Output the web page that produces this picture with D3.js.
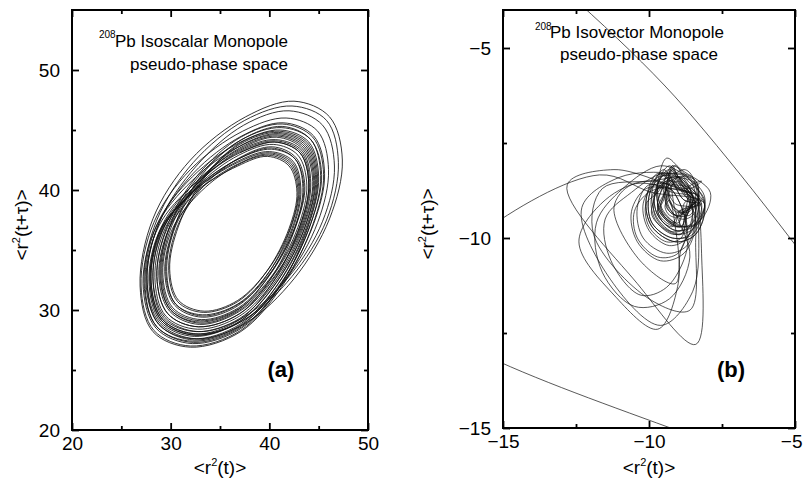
<!DOCTYPE html>
<html><head><meta charset="utf-8">
<script src="https://cdn.jsdelivr.net/npm/d3@7"></script>
<style>
body{margin:0;background:#fff}
svg{display:block}
text{font-family:"Liberation Sans",Arial,Helvetica,sans-serif;fill:#000}
</style>
</head><body>
<svg id="chart" width="804" height="482"></svg>
<script>
// ---------------- DATA ----------------
// Panel (a): time series of <r^2(t)> (isoscalar); pseudo-phase space plots (<r^2(t)>, <r^2(t+tau)>)
const isoscalarSeries = [
 37.0,40.5,43.1,44.0,43.1,40.5,37.0,32.5,29.2,28.0,29.2,32.5,
 36.8,40.0,42.4,43.2,42.4,40.0,36.8,32.9,30.0,29.0,30.0,32.9,
 37.2,41.2,44.2,45.2,44.2,41.2,37.2,32.2,28.5,27.2,28.5,32.2,
 36.9,40.8,43.6,44.6,43.6,40.8,36.9,32.4,29.0,27.8,29.0,32.4,
 36.8,39.8,42.0,42.8,42.0,39.8,36.8,33.3,30.7,29.8,30.7,33.3,
 37.0,40.3,42.7,43.6,42.7,40.3,37.0,32.8,29.7,28.6,29.7,32.8,
 37.1,41.3,44.4,45.5,44.4,41.3,37.1,32.0,28.2,26.9,28.2,32.0,
 37.6,42.5,46.1,47.4,46.1,42.5,37.6,32.6,28.9,27.6,28.9,32.6,
 37.4,42.0,45.4,46.6,45.4,42.0,37.4,32.8,29.4,28.2,29.4,32.8,
 37.0,40.6,43.3,44.2,43.3,40.6,37.0,32.9,29.9,28.8,29.9,32.9,
 36.9,40.0,42.2,43.0,42.2,40.0,36.9,33.2,30.4,29.4,30.4,33.2,
 37.0,40.9,43.8,44.8,43.8,40.9,37.0,32.2,28.6,27.4,28.6,32.2,
 37.1,41.1,44.0,45.0,44.0,41.1,37.1,32.0,28.3,27.0,28.3,32.0,
 37.3,41.7,44.9,46.0,44.9,41.7,37.3,32.6,29.1,27.9,29.1,32.6,
 37.0,40.7,43.4,44.4,43.4,40.7,37.0,32.7,29.5,28.4,29.5,32.7,
 36.9,40.2,42.6,43.4,42.6,40.2,36.9,33.1,30.2,29.2,30.2,33.1,
 36.8,39.9,42.1,42.9,42.1,39.9,36.8,33.4,30.8,29.9,30.8,33.4,
 37.0,41.0,43.9,44.9,43.9,41.0,37.0,32.3,28.8,27.6,28.8,32.3,
 37.2,41.4,44.5,45.6,44.5,41.4,37.2,32.3,28.6,27.3,28.6,32.3,
 37.5,42.3,45.8,47.0,45.8,42.3,37.5,32.8,29.2,28.0,29.2,32.8,
 37.0,40.6,43.2,44.1,43.2,40.6,37.0,32.8,29.7,28.6,29.7,32.8,
 36.9,40.4,42.9,43.8,42.9,40.4,36.9,33.0,30.1,29.1,30.1,33.0,
 37.0,40.8,43.5,44.5,43.5,40.8,37.0,32.6,29.3,28.2,29.3,32.6,
 36.9,40.2,42.6,43.5,42.6,40.2,36.9,33.2,30.5,29.5,30.5,33.2,
 37.2,41.3,44.2,45.3,44.2,41.3,37.2,32.4,28.8,27.5,28.8,32.4,
 37.0,40.5,43.1,44.0,43.1,40.5,37.0,33.0,30.0,28.9,30.0,33.0,
 37.1,40.9,43.7,44.7,43.7,40.9,37.1,32.5,29.1,27.9,29.1,32.5,
 36.8,40.0,42.3,43.1,42.3,40.0,36.8,33.2,30.5,29.6,30.5,33.2,
 37.0,40.5
];
const isoscalarLag = 2;

// Panel (b): time series of <r^2(t)> (isovector)
const isovectorSeries = [
 -20,-8.8,1,-6.55,-18,-15.8,-11.7,-9.9,-8.34,
 -8.8,-9.0,-9.3,-9.6,-9.5,-9.2,-8.9,
 -8.2,-8.5,-9.1,-9.7,-9.8,-9.4,-8.8,-8.3,
 -9.0,-9.1,-9.4,-9.6,-9.5,-9.2,-9.0,
 -8.1,-8.4,-9.1,-9.9,-10.1,-9.7,-9.0,-8.4,
 -8.4,-8.6,-10.0,-11.9,-11.6,-9.9,-8.7,-8.5,
 -8.4,-8.6,-9.0,-9.4,-9.3,-8.9,-8.5,
 -8.7,-8.9,-9.4,-10.0,-10.1,-9.7,-9.1,-8.8,
 -8.1,-8.4,-9.0,-9.7,-9.9,-9.5,-8.8,-8.2,
 -9.0,-9.1,-9.3,-9.4,-9.3,-9.1,
 -9.0,-9.7,-11.2,-12.4,-11.5,-10.1,-9.0,-8.5,
 -8.7,-8.9,-9.4,-9.9,-9.8,-9.4,-8.9,
 -7.9,-8.2,-8.8,-9.5,-9.7,-9.3,-8.6,-8.1,
 -8.9,-9.1,-10.3,-11.2,-10.6,-9.2,-8.6,
 -8.7,-8.9,-9.3,-9.7,-9.6,-9.2,-8.8,
 -8.4,-8.8,-9.6,-10.4,-10.6,-10.1,-9.3,-8.7,
 -8.7,-8.8,-9.1,-9.3,-9.3,-9.0,-8.8,
 -8.4,-8.6,-9.1,-9.7,-9.8,-9.4,-8.8,-8.5,
 -8.2,-8.4,-10.4,-12.8,-11.2,-8.6,-8.2,-8.7,
 -8.5,-8.7,-9.3,-10.0,-10.2,-9.8,-9.1,-8.6,
 -8.6,-8.7,-9.1,-9.4,-9.4,-9.0,-8.7,
 -8.4,-8.6,-9.2,-9.9,-10.0,-9.6,-8.9,-8.4,
 -8.3,-8.5,-9.6,-11.4,-12.3,-11.0,-9.2,-8.4,
 -8.3,-8.5,-8.9,-9.4,-9.5,-9.1,-8.6,
 -9.1,-9.2,-9.5,-9.7,-9.6,-9.3,-9.1,
 -8.6,-9.3,-10.5,-11.6,-11.8,-10.9,-9.6,-8.7,
 -8.1,-8.4,-9.1,-9.9,-10.1,-9.7,-9.0,-8.3,
 -8.7,-8.9,-9.3,-9.7,-9.6,-9.2,-8.8,
 -8.1,-8.3,-8.9,-9.6,-9.7,-9.3,-8.6,-8.2,
 -8.9,-9.0,-9.4,-9.7,-9.6,-9.3,-9.0,
 -8.7,-9.0,-9.7,-10.4,-10.5,-10.0,-9.3,-8.8,
 -8.7,-9.4,-10.3,-11.3,-11.5,-10.6,-9.5,-8.8,
 -8.3,-8.5,-9.0,-9.6,-9.7,-9.3,-8.7,-8.4,
 -8.95,-9.05,-9.3,-9.45,-9.4,-9.2,-9.0,
 -8.2,-8.5,-9.2,-9.9,-10.0,-9.6,-8.9,-8.3,
 -8.75,-8.9,-9.35,-9.8,-9.8,-9.4,-8.9,
 -8.5,-8.6,-8.95,-9.3,-9.3,-9.0,-8.7,
 -8.5,-8.7,-9.2,-9.8,-9.9,-9.5,-8.9,-8.6,
 -8.4,-8.7,-9.4,-10.2,-10.4,-10.0,-9.2,-8.6,
 -8.8,-8.9,-9.1,-9.4,-9.4,-9.2,-8.9,
 -8.9
];
const isovectorLag = 2;

// axes
const xDomainA = [20, 50], yDomainA = [20, 55];
const xMajorA = [20, 30, 40, 50], xMinorA = [25, 35, 45];
const yMajorA = [20, 30, 40, 50], yMinorA = [25, 35, 45];
const xDomainB = [-15, -5], yDomainB = [-15, -4];
const xMajorB = [-15, -10, -5], xMinorB = [-12.5, -7.5];
const yMajorB = [-15, -10, -5], yMinorB = [-12.5, -7.5];

const titleLines = [["208", "Pb Isoscalar Monopole", "pseudo-phase space"],
                    ["208", "Pb Isovector Monopole", "pseudo-phase space"]];
const panelLabels = ["(a)", "(b)"];

// ---------------- DRAWING ----------------
const svg = d3.select("#chart");
svg.append("rect").attr("width",804).attr("height",482).attr("fill","#fff");

const panels = [
  {series: isoscalarSeries, lag: isoscalarLag, xd: xDomainA, yd: yDomainA,
   xM: xMajorA, xm: xMinorA, yM: yMajorA, ym: yMinorA,
   box: {l: 72, r: 368, t: 10, b: 430},
   title: titleLines[0], tpos: {sx: 99, sy: 38, x1: 115, y1: 47, x2: 130, y2: 70},
   label: panelLabels[0], lpos: [281, 377], ytitleX: 28, sw: 0.85},
  {series: isovectorSeries, lag: isovectorLag, xd: xDomainB, yd: yDomainB,
   xM: xMajorB, xm: xMinorB, yM: yMajorB, ym: yMinorB,
   box: {l: 503, r: 795, t: 10, b: 428},
   title: titleLines[1], tpos: {sx: 535, sy: 29.5, x1: 550, y1: 37.5, x2: 560, y2: 60},
   label: panelLabels[1], lpos: [731, 377], ytitleX: 434, sw: 0.7}
];

panels.forEach((p, i) => {
  const x = d3.scaleLinear().domain(p.xd).range([p.box.l, p.box.r]);
  const y = d3.scaleLinear().domain(p.yd).range([p.box.b, p.box.t]);
  const g = svg.append("g");

  const clipId = "clip" + i;
  svg.append("clipPath").attr("id", clipId).append("rect")
    .attr("x", p.box.l).attr("y", p.box.t)
    .attr("width", p.box.r - p.box.l).attr("height", p.box.b - p.box.t);

  // pseudo-phase-space trajectory: (<r²(t)>, <r²(t+τ)>)
  const pts = d3.range(p.series.length - p.lag).map(k => [p.series[k], p.series[k + p.lag]]);
  const line = d3.line().x(d => x(d[0])).y(d => y(d[1])).curve(d3.curveCatmullRom.alpha(0.5));
  g.append("path").attr("clip-path", `url(#${clipId})`)
    .attr("d", line(pts)).attr("fill", "none")
    .attr("stroke", "#111").attr("stroke-width", p.sw).attr("stroke-linejoin","round");

  // axes with inward ticks
  const fmt = d3.format("d");
  const styleAxis = sel => {
    sel.select(".domain").remove();
    sel.selectAll("line").attr("stroke", "#000").attr("stroke-width", 1.8);
    sel.selectAll("text").attr("font-size", 19).attr("fill","#000")
      .attr("font-family", '"Liberation Sans",Arial,Helvetica,sans-serif');
  };
  const xAxisG = g.append("g").attr("transform", `translate(0,${p.box.b})`)
    .call(d3.axisBottom(x).tickValues(p.xM).tickFormat(fmt).tickSizeInner(-7).tickSizeOuter(0).tickPadding(7))
    .call(styleAxis);
  // keep a label that would run past the window edge inside it
  xAxisG.selectAll(".tick text").filter(d => x(d) + 10 > 804)
    .attr("text-anchor", "end").attr("x", d => 802 - x(d));
  g.append("g").attr("transform", `translate(0,${p.box.b})`)
    .call(d3.axisBottom(x).tickValues(p.xm).tickFormat("").tickSizeInner(-4).tickSizeOuter(0))
    .call(styleAxis);
  g.append("g").attr("transform", `translate(0,${p.box.t})`)
    .call(d3.axisTop(x).tickValues(p.xM).tickFormat("").tickSizeInner(-7).tickSizeOuter(0))
    .call(styleAxis);
  g.append("g").attr("transform", `translate(0,${p.box.t})`)
    .call(d3.axisTop(x).tickValues(p.xm).tickFormat("").tickSizeInner(-4).tickSizeOuter(0))
    .call(styleAxis);
  g.append("g").attr("transform", `translate(${p.box.l},0)`)
    .call(d3.axisLeft(y).tickValues(p.yM).tickFormat(fmt).tickSizeInner(-7).tickSizeOuter(0).tickPadding(12))
    .call(styleAxis);
  g.append("g").attr("transform", `translate(${p.box.l},0)`)
    .call(d3.axisLeft(y).tickValues(p.ym).tickFormat("").tickSizeInner(-4).tickSizeOuter(0))
    .call(styleAxis);
  g.append("g").attr("transform", `translate(${p.box.r},0)`)
    .call(d3.axisRight(y).tickValues(p.yM).tickFormat("").tickSizeInner(-7).tickSizeOuter(0))
    .call(styleAxis);
  g.append("g").attr("transform", `translate(${p.box.r},0)`)
    .call(d3.axisRight(y).tickValues(p.ym).tickFormat("").tickSizeInner(-4).tickSizeOuter(0))
    .call(styleAxis);

  // frame
  g.append("rect").attr("x", p.box.l).attr("y", p.box.t)
    .attr("width", p.box.r - p.box.l).attr("height", p.box.b - p.box.t)
    .attr("fill", "none").attr("stroke", "#000").attr("stroke-width", 2);

  // x axis title <r²(t)>
  const cx = (p.box.l + p.box.r) / 2;
  const xt = g.append("text").attr("x", cx).attr("y", 474).attr("text-anchor", "middle").attr("font-size", 19);
  xt.append("tspan").text("<r");
  xt.append("tspan").attr("dy", -8).attr("font-size", 11).text("2");
  xt.append("tspan").attr("dy", 8).text("(t)>");

  // y axis title <r²(t+τ)>
  const cy = (p.box.t + p.box.b) / 2 + 5;
  const yt = g.append("text").attr("transform", `translate(${p.ytitleX},${cy}) rotate(-90)`)
    .attr("text-anchor", "middle").attr("font-size", 19);
  yt.append("tspan").text("<r");
  yt.append("tspan").attr("dy", -8).attr("font-size", 11).text("2");
  yt.append("tspan").attr("dy", 8).text("(t+τ)>");

  // annotation
  g.append("text").attr("x", p.tpos.sx).attr("y", p.tpos.sy).attr("font-size", 10).text(p.title[0]);
  g.append("text").attr("x", p.tpos.x1).attr("y", p.tpos.y1).attr("font-size", 17).text(p.title[1]);
  g.append("text").attr("x", p.tpos.x2).attr("y", p.tpos.y2).attr("font-size", 17).text(p.title[2]);

  // panel label
  g.append("text").attr("x", p.lpos[0]).attr("y", p.lpos[1]).attr("text-anchor", "middle")
    .attr("font-size", 22).attr("font-weight", "bold").text(p.label);
});
</script>
</body></html>
